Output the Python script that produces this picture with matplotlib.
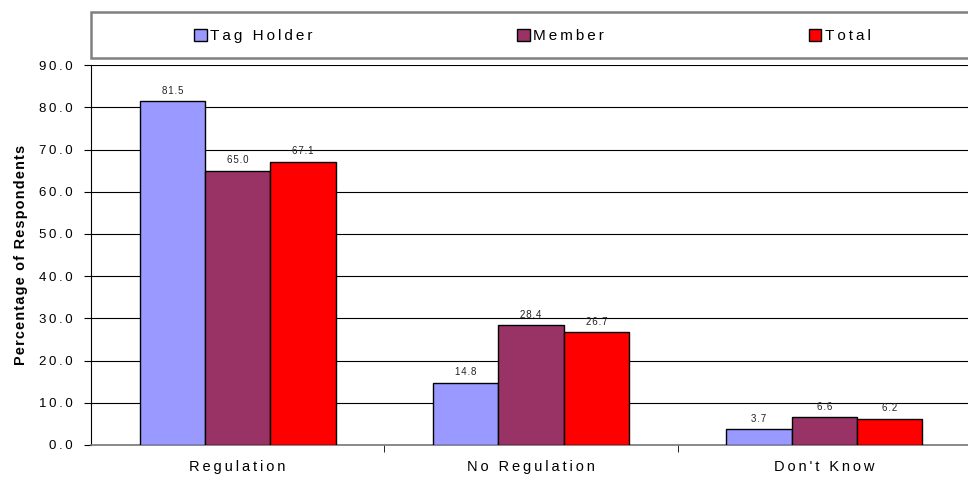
import matplotlib
matplotlib.use("Agg")
import matplotlib.pyplot as plt
from matplotlib.patches import Rectangle
import numpy as np

plt.rcParams['font.family'] = ['Liberation Sans', 'DejaVu Sans']

categories = ["Regulation", "No Regulation", "Don't Know"]
series = ["Tag Holder", "Member", "Total"]
tag_holder = [81.5, 14.8, 3.7]
member = [65.0, 28.4, 6.6]
total = [67.1, 26.7, 6.2]
colors = ["#9999FF", "#993366", "#FF0000"]
yticks = [0, 10, 20, 30, 40, 50, 60, 70, 80, 90]


def spaced(s, sep="\u2009"):
    # the original uses wide letter spacing
    return sep.join(s)


fig = plt.figure(figsize=(9.68, 4.79), dpi=100)
ax = fig.add_axes([0.094, 0.071, 0.909, 0.793])

x = np.arange(len(categories))
w = 0.223
for i, (name, vals) in enumerate(zip(series, [tag_holder, member, total])):
    pos = x + (i - 1) * w
    bars = ax.bar(pos, vals, w, color=colors[i], edgecolor="black", linewidth=1.0,
                  label=spaced(name), zorder=3)
    for b, v in zip(bars, vals):
        ax.text(b.get_x() + b.get_width() / 2, v + 1.3, spaced(f"{v:.1f}", "\u200a"),
                ha="center", va="bottom", fontsize=7, color="#222222")

ax.set_xlim(-0.5, 2.5)
ax.set_ylim(0, 90)
ax.set_yticks(yticks)
ax.set_yticklabels([spaced(f"{t:.1f}") for t in yticks], fontsize=9.5)
ax.set_xticks([0.5, 1.5], minor=True)
ax.set_xticks(x)
ax.set_xticklabels([spaced(c) for c in categories], fontsize=10.5)
ax.tick_params(axis="x", which="major", length=0, pad=11)
ax.tick_params(axis="x", which="minor", length=5, color="black", direction="out")
ax.tick_params(axis="y", length=5, color="black", pad=8)
ax.yaxis.grid(True, color="black", linewidth=0.8, zorder=0)
ax.set_axisbelow(True)
for s in ["top", "right"]:
    ax.spines[s].set_visible(False)
ax.spines["bottom"].set_color("#777777")
ax.spines["bottom"].set_linewidth(1.2)
ax.spines["left"].set_color("black")
ax.set_ylabel(spaced("Percentage of Respondents", "\u200a"), fontsize=10.4,
              fontweight="bold", labelpad=8)

# legend box across the top
fig.patches.append(Rectangle((0.094, 0.879), 0.92, 0.096, transform=fig.transFigure,
                             facecolor="white", edgecolor="#808080", linewidth=1.8))
handles, labels = ax.get_legend_handles_labels()
leg = fig.legend(handles, labels, loc="center", bbox_to_anchor=(0.5496, 0.925), ncol=3,
                 frameon=False, fontsize=11, handlelength=0.85, handleheight=0.85,
                 handletextpad=0.2, columnspacing=13.4)

fig.savefig("out.png", dpi=100)
